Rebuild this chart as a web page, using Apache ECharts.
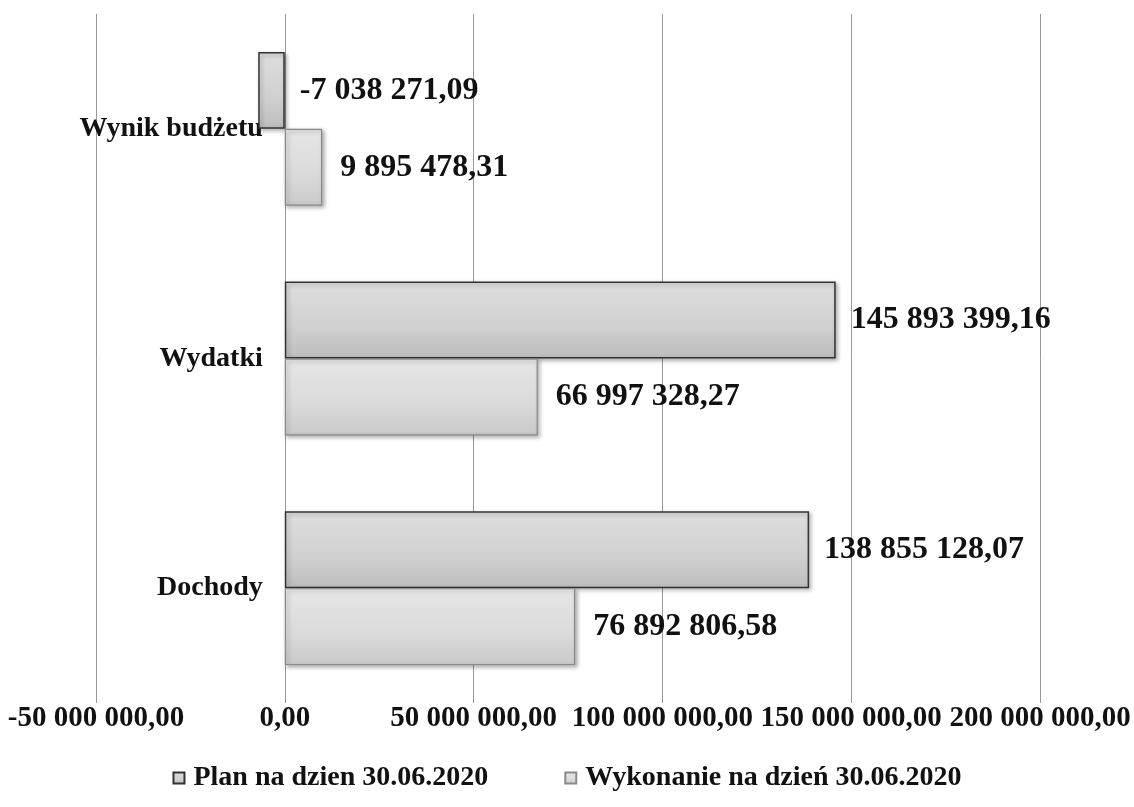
<!DOCTYPE html>
<html>
<head>
<meta charset="utf-8">
<script src="https://cdn.jsdelivr.net/npm/echarts@6/dist/echarts.min.js"></script>
<style>html,body{margin:0;padding:0;background:#fff;}#c{width:1134px;height:807px;}</style>
</head>
<body>
<div id="c"></div>
<script>
var categories = ['Dochody', 'Wydatki', 'Wynik budżetu'];
var planName = 'Plan na dzien 30.06.2020';
var execName = 'Wykonanie na dzień 30.06.2020';
var planValues = [138855128.07, 145893399.16, -7038271.09];
var execValues = [76892806.58, 66997328.27, 9895478.31];
var axisMin = -50000000, axisMax = 200000000, axisStep = 50000000;

function fmt(v) {
  var neg = v < 0;
  var s = Math.abs(v).toFixed(2).split('.');
  var intPart = s[0].replace(/\B(?=(\d{3})+(?!\d))/g, ' ');
  return (neg ? '-' : '') + intPart + ',' + s[1];
}
var serif = '"Liberation Serif", "DejaVu Serif", serif';
var gridLeft = 96, gridRight = 94, chartW = 1134;
var plotW = chartW - gridLeft - gridRight;
var zeroOffset = (0 - axisMin) / (axisMax - axisMin) * plotW;

var chart = echarts.init(document.getElementById('c'));
chart.setOption({
  animation: false,
  backgroundColor: '#fff',
  grid: { left: gridLeft, right: gridRight, top: 14, bottom: 104, containLabel: false, outerBoundsMode: 'none' },
  legend: {
    top: 759,
    left: 'center',
    itemGap: 76,
    icon: 'rect',
    itemWidth: 11,
    itemHeight: 11,
    data: [planName, execName],
    textStyle: { fontFamily: serif, fontWeight: 'bold', fontSize: 28, color: '#111', padding: [0, 0, 0, 4] }
  },
  xAxis: {
    type: 'value',
    min: axisMin, max: axisMax, interval: axisStep,
    axisLine: { show: false },
    axisTick: { show: false },
    splitLine: { show: true, lineStyle: { color: '#999', width: 1 } },
    axisLabel: {
      formatter: function (v) { return fmt(v); },
      fontFamily: serif, fontWeight: 'bold', fontSize: 29, color: '#111', margin: 1
    }
  },
  yAxis: {
    type: 'category',
    data: categories,
    offset: -zeroOffset,
    axisLine: { show: false, onZero: false },
    axisTick: { show: false },
    splitLine: { show: false },
    axisLabel: { fontFamily: serif, fontWeight: 'bold', fontSize: 28, color: '#111', margin: 22 }
  },
  series: [
    {
      name: planName, type: 'bar', data: planValues,
      barGap: '0%', barCategoryGap: '33%',
      itemStyle: {
        color: new echarts.graphic.LinearGradient(0, 0, 0, 1, [
          { offset: 0, color: '#dedede' }, { offset: 0.6, color: '#d0d0d0' }, { offset: 1, color: '#bcbcbc' }
        ]),
        borderColor: '#333', borderWidth: 1.5,
        shadowColor: 'rgba(0,0,0,0.3)', shadowBlur: 4, shadowOffsetX: 2, shadowOffsetY: 2
      },
      label: {
        show: true, position: 'right', distance: 15,
        formatter: function (p) { return fmt(p.value); },
        fontFamily: serif, fontWeight: 'bold', fontSize: 32, color: '#111'
      }
    },
    {
      name: execName, type: 'bar', data: execValues,
      barGap: '0%', barCategoryGap: '33%',
      itemStyle: {
        color: new echarts.graphic.LinearGradient(0, 0, 0, 1, [
          { offset: 0, color: '#e6e6e6' }, { offset: 0.6, color: '#dadada' }, { offset: 1, color: '#c9c9c9' }
        ]),
        borderColor: '#8a8a8a', borderWidth: 1.2,
        shadowColor: 'rgba(0,0,0,0.3)', shadowBlur: 4, shadowOffsetX: 2, shadowOffsetY: 2
      },
      label: {
        show: true, position: 'right', distance: 18,
        formatter: function (p) { return fmt(p.value); },
        fontFamily: serif, fontWeight: 'bold', fontSize: 32, color: '#111'
      }
    }
  ]
});
</script>
</body>
</html>
